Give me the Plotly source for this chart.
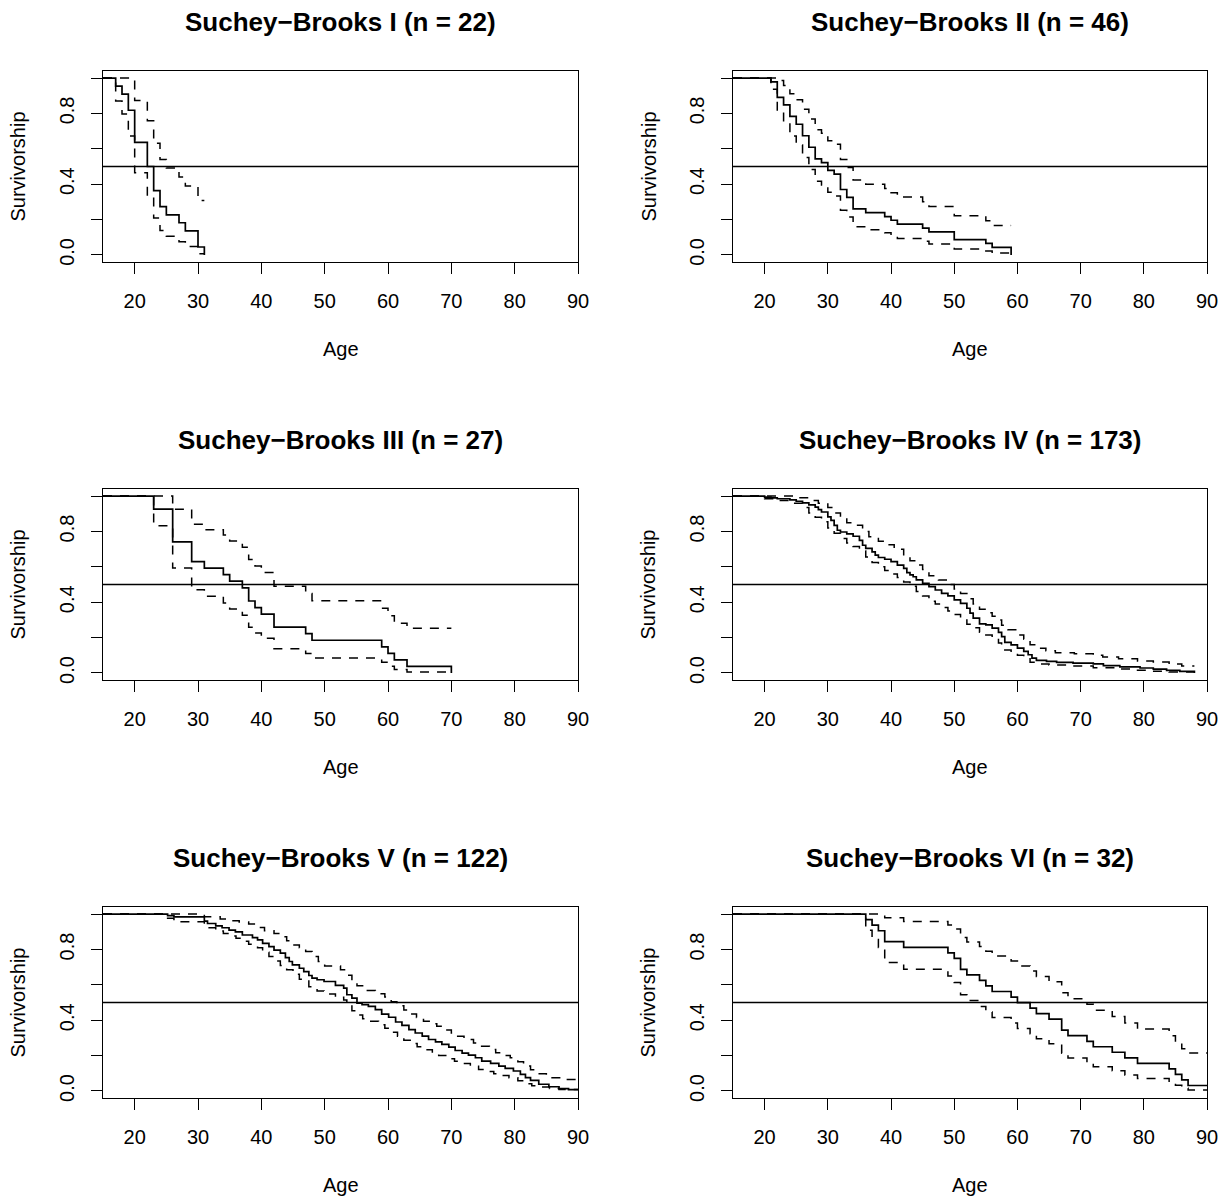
import plotly.graph_objects as go

# ---------------- data ----------------
titles = ["Suchey\u2212Brooks I (n = 22)", "Suchey\u2212Brooks II (n = 46)",
          "Suchey\u2212Brooks III (n = 27)", "Suchey\u2212Brooks IV (n = 173)",
          "Suchey\u2212Brooks V (n = 122)", "Suchey\u2212Brooks VI (n = 32)"]

x_ticks = [20, 30, 40, 50, 60, 70, 80, 90]
y_ticks = [0.0, 0.2, 0.4, 0.6, 0.8, 1.0]
y_tick_text = ["0.0", "", "0.4", "", "0.8", ""]

# Panel I
sb1_age = [15, 17, 18, 19, 20, 22, 23, 24, 25, 27, 28, 30, 31]
sb1_surv = [1.0, .955, .909, .818, .636, .5, .364, .273, .227, .182, .136, .045, 0.0]
sb1_up = [1.0, 1.0, 1.0, .996, .873, .759, .632, .539, .491, .441, .39, .308, .308]
sb1_lo = [1.0, .871, .797, .672, .464, .329, .209, .138, .105, .075, .048, .007, .007]

# Panel II
sb2_age = [15, 21, 22, 23, 24, 25, 26, 27, 28, 29, 30, 31, 32, 33, 34, 36, 39, 40, 41,
           45, 46, 50, 55, 56, 59]
sb2_surv = [1.0, .978, .891, .848, .783, .739, .674, .609, .543, .522, .478, .457, .370,
            .326, .261, .239, .217, .196, .174, .152, .130, .087, .065, .043, 0.0]
sb2_up = [1.0, 1.0, .986, .958, .912, .878, .824, .768, .708, .688, .646, .626, .540,
          .494, .424, .400, .376, .352, .327, .301, .274, .222, .194, .167, .167]
sb2_lo = [1.0, .937, .806, .751, .672, .622, .551, .483, .417, .396, .354, .333, .253,
          .215, .160, .143, .126, .109, .093, .077, .062, .034, .022, .011, .011]

# Panel III
sb3_age = [15, 23, 26, 29, 31, 34, 35, 37, 38, 39, 40, 42, 47, 48, 59, 60, 61, 63, 70]
sb3_surv = [1.0, .926, .741, .630, .593, .556, .519, .481, .407, .370, .333, .259, .222,
            .185, .148, .111, .074, .037, 0.0]
sb3_up = [1.0, 1.0, .926, .841, .810, .780, .746, .711, .642, .605, .568, .490, .450,
          .408, .366, .323, .281, .253, .253]
sb3_lo = [1.0, .833, .593, .471, .434, .396, .361, .326, .258, .226, .196, .137, .110,
          .084, .060, .038, .020, .005, .005]

# Panel IV
sb4_age = [15, 20, 21, 22, 24, 25, 26, 27, 28, 28.5,
           29, 30, 30.5, 31, 31.5, 32, 33, 34, 35, 35.5,
           36, 37, 37.5, 38, 39, 40, 41, 42, 42.5, 43,
           43.5, 44, 45, 46, 47, 48, 49, 50, 51, 52,
           52.5, 53, 54, 55, 56, 57, 57.5, 58, 59, 60,
           61, 61.7, 62.3, 63, 64.6, 66.2, 68.8, 72, 73.6, 76.2,
           79.4, 81.5, 83.6, 85.7, 88]
sb4_surv = [1.0, .994, .99, .985, .979, .971, .962, .95, .938, .923,
            .91, .882, .863, .835, .807, .797, .786, .773, .75, .722,
            .704, .685, .666, .653, .643, .629, .61, .591, .567, .555,
            .544, .526, .507, .488, .469, .45, .436, .413, .394, .366,
            .338, .31, .278, .272, .253, .229, .206, .173, .159, .141,
            .122, .103, .084, .071, .066, .06, .056, .051, .041, .034,
            .028, .022, .015, .009, 0.0]
sb4_up_age = [15, 25, 27, 28.5, 30, 31, 32, 33, 34, 35.5,
              36.5, 38, 39, 40.5, 42, 43, 44, 45, 46, 47.5,
              49, 50, 51, 52, 53, 54, 55, 56, 57, 57.5,
              58.5, 60, 61, 62, 63, 64.5, 66, 69, 72, 73.5,
              76, 79, 81.5, 84, 86, 88]
sb4_up = [1.0, .99, .975, .96, .935, .905, .875, .85, .835, .80,
          .77, .745, .725, .70, .66, .635, .61, .585, .55, .525,
          .50, .475, .45, .42, .39, .36, .34, .32, .30, .27,
          .245, .215, .19, .16, .14, .125, .115, .108, .10, .09,
          .08, .068, .062, .05, .04, .04]
sb4_lo_age = [15, 20, 22, 24, 26, 27, 28, 29, 30, 31,
              32, 33, 34, 35, 36, 37, 38, 39, 40, 41,
              42, 43, 44, 45, 46, 47, 48, 49, 50, 51,
              52, 53, 54, 55, 56, 57, 57.5, 58, 59, 60,
              61, 62, 63, 65, 68, 72, 76, 79, 81, 84, 88]
sb4_lo = [1.0, .985, .975, .96, .935, .905, .88, .855, .82, .79,
          .76, .735, .715, .69, .655, .625, .60, .58, .56, .54,
          .515, .49, .46, .435, .405, .39, .37, .35, .33, .305,
          .275, .255, .23, .215, .195, .17, .145, .13, .115, .10,
          .08, .06, .05, .045, .04, .03, .022, .015, .01, .005, .005]

# Panel V
sb5_age = [15, 25.2, 26.2, 31, 31.5, 32.8, 33.8, 34.9, 35.9, 37,
           38.6, 39.4, 40.2, 41.2, 42, 43, 43.8, 44.4, 44.9, 46,
           46.7, 47.5, 48, 48.8, 49.9, 51.7, 53, 53.5, 54.3, 55.1,
           55.9, 56.9, 58, 59, 60.1, 61.2, 62.2, 63.3, 64.3, 65.4,
           66.4, 67.5, 68.5, 69.6, 70.6, 71.7, 72.7, 73.8, 74.8, 76.2,
           77.5, 78.5, 79.8, 80.9, 81.7, 82.5, 83.8, 85.4, 87, 88.5, 90]
sb5_surv = [1.0, .992, .984, .96, .947, .934, .923, .91, .90, .882,
            .867, .854, .835, .816, .797, .779, .754, .732, .713, .694,
            .675, .653, .638, .629, .619, .597, .582, .544, .525, .497,
            .488, .478, .46, .435, .417, .39, .371, .347, .328, .31,
            .291, .278, .263, .248, .229, .214, .203, .188, .169, .156,
            .141, .128, .113, .094, .075, .06, .038, .024, .013, .008, .008]
sb5_up_age = [15, 31, 33.5, 35, 36.5, 38, 39.5, 40.5, 42, 43,
              44, 45, 46, 47, 48, 49, 50, 52.5, 53.5, 54.3,
              55.1, 56.5, 58, 59.5, 60.5, 61.4, 62.5, 63.3, 64.5, 65.6,
              66.5, 67.7, 69, 70, 71, 72, 73.5, 74.5, 76, 77,
              78, 79.3, 80.5, 81.4, 82.5, 83.5, 85, 85.9, 88, 90]
sb5_up = [1.0, .985, .972, .962, .955, .944, .925, .906, .89, .872,
          .85, .826, .81, .788, .76, .732, .707, .685, .655, .625,
          .595, .568, .55, .531, .505, .482, .458, .435, .415, .394,
          .38, .366, .345, .328, .31, .291, .272, .253, .235, .216,
          .20, .188, .165, .141, .12, .098, .085, .075, .065, .06]
sb5_lo_age = [15, 25.2, 26.2, 31, 32.8, 34, 35, 36, 37, 38,
              39.4, 40.2, 41.2, 42, 43, 44, 45, 46, 47.5, 48.8,
              49.9, 51.7, 53, 53.5, 54.3, 55.1, 56, 57, 58.5, 59.5,
              60.4, 61.5, 62.5, 63.5, 64.6, 65.7, 67, 68, 69.3, 70.5,
              71.7, 73, 74.3, 75.5, 76.7, 78, 79.1, 80.5, 81.7, 82.7,
              83.8, 85.5, 87, 90]
sb5_lo = [1.0, .976, .957, .923, .905, .891, .877, .863, .846, .829,
          .81, .784, .76, .735, .71, .685, .66, .632, .59, .565,
          .548, .53, .515, .49, .454, .43, .409, .395, .375, .355,
          .332, .31, .287, .268, .25, .233, .216, .20, .182, .168,
          .156, .14, .122, .11, .098, .087, .075, .058, .041, .03,
          .022, .014, .009, .005]

# Panel VI
sb6_age = [15, 36, 37, 38, 39, 42, 49, 50, 51, 52, 54, 55, 56, 59, 60, 62, 63, 65, 67,
           68, 71, 72, 75, 77, 79, 84, 85, 86, 87, 90]
sb6_surv = [1.0, .969, .938, .906, .844, .8125, .781, .75, .6875, .656, .625, .594, .5625,
            .531, .5, .469, .4375, .406, .344, .3125, .281, .25, .219, .1875, .156, .125,
            .094, .0625, .031, .031]
sb6_up = [1.0, 1.0, 1.0, 1.0, .98, .959, .938, .916, .868, .843, .817, .79, .763, .735,
          .707, .678, .648, .618, .555, .522, .49, .456, .421, .385, .35, .313, .275,
          .239, .215, .215]
sb6_lo = [1.0, .909, .857, .811, .727, .688, .650, .614, .544, .511, .478, .446, .415,
          .384, .354, .324, .295, .267, .213, .187, .161, .137, .114, .091, .070, .050,
          .032, .016, .005, .005]

panels = [
    (sb1_age, sb1_surv, sb1_age, sb1_up, sb1_age, sb1_lo),
    (sb2_age, sb2_surv, sb2_age, sb2_up, sb2_age, sb2_lo),
    (sb3_age, sb3_surv, sb3_age, sb3_up, sb3_age, sb3_lo),
    (sb4_age, sb4_surv, sb4_up_age, sb4_up, sb4_lo_age, sb4_lo),
    (sb5_age, sb5_surv, sb5_up_age, sb5_up, sb5_lo_age, sb5_lo),
    (sb6_age, sb6_surv, sb6_age, sb6_up, sb6_age, sb6_lo),
]

# ---------------- layout geometry ----------------
W, H = 1227, 1197
SX, SY = 1 / 0.991, 1 / 0.9966   # compensation for the observed rendering scale
col_px = [(103 * SX, 578 * SX), (733 * SX, 1207 * SX)]
row_px = [(71 * SY, 262 * SY), (489 * SY, 680 * SY), (907 * SY, 1098 * SY)]
title_y = [22 * SY, 440 * SY, 858 * SY]
agelab_y = [349 * SY, 767 * SY, 1185 * SY]
ylab_x = [18 * SX, 648 * SX]

FONT = "Liberation Sans, Arial, Helvetica, sans-serif"
LW = 1.4

fig = go.Figure()
layout = dict(width=W, height=H, margin=dict(l=0, r=0, t=0, b=0),
              paper_bgcolor="white", plot_bgcolor="white", showlegend=False,
              font=dict(family=FONT, color="black"))
annotations = []
shapes = []

for i, (ax, s, ua, u, la, lo) in enumerate(panels):
    r, c = divmod(i, 2)
    k = "" if i == 0 else str(i + 1)
    xa, ya = "x" + k, "y" + k
    x0, x1 = col_px[c]
    y0, y1 = row_px[r]
    common = dict(showline=True, mirror=True, linecolor="black", linewidth=LW,
                  ticks="outside", ticklen=11, tickwidth=LW, tickcolor="black",
                  showgrid=False, zeroline=False,
                  tickfont=dict(family=FONT, size=20, color="black"))
    layout["xaxis" + k] = dict(common, domain=[x0 / W, x1 / W], range=[15, 90],
                               tickmode="array", tickvals=x_ticks,
                               ticktext=[str(t) for t in x_ticks],
                               anchor=ya, ticklabelstandoff=10)
    layout["yaxis" + k] = dict(common, domain=[1 - y1 / H, 1 - y0 / H],
                               range=[-0.04, 1.04], tickmode="array",
                               tickvals=y_ticks, ticktext=y_tick_text,
                               tickangle=-90, anchor=xa, ticklabelstandoff=9)
    fig.add_trace(go.Scatter(x=ax, y=s, mode="lines", xaxis=xa, yaxis=ya,
                             line=dict(color="black", width=1.7, shape="hv"),
                             hoverinfo="skip"))
    for xx, yy in ((ua, u), (la, lo)):
        fig.add_trace(go.Scatter(x=xx, y=yy, mode="lines", xaxis=xa, yaxis=ya,
                                 line=dict(color="black", width=1.5, shape="hv",
                                           dash="9px,8px"),
                                 hoverinfo="skip"))
    shapes.append(dict(type="line", xref=xa + " domain", yref=ya, x0=0, x1=1,
                       y0=0.5, y1=0.5, line=dict(color="black", width=LW)))
    cx = (x0 + x1) / 2 / W
    annotations.append(dict(text="<b>" + titles[i] + "</b>", x=cx, y=1 - title_y[r] / H,
                            xref="paper", yref="paper", showarrow=False,
                            xanchor="center", yanchor="middle",
                            font=dict(family=FONT, size=26, color="black")))
    annotations.append(dict(text="Age", x=cx, y=1 - agelab_y[r] / H,
                            xref="paper", yref="paper", showarrow=False,
                            xanchor="center", yanchor="middle",
                            font=dict(family=FONT, size=20, color="black")))
    annotations.append(dict(text="Survivorship", x=ylab_x[c] / W,
                            y=1 - (y0 + y1) / 2 / H, xref="paper", yref="paper",
                            showarrow=False, textangle=-90,
                            xanchor="center", yanchor="middle",
                            font=dict(family=FONT, size=20, color="black")))

layout["annotations"] = annotations
layout["shapes"] = shapes
fig.update_layout(**layout)
fig.write_html(
    "out.html",
    config={"displayModeBar": False, "responsive": False},
    post_script=("document.documentElement.style.margin='0px';"
                 "document.body.style.margin='0px';"
                 "document.body.style.overflow='hidden';"
                 "document.documentElement.style.overflow='hidden';"
                 "var gd=document.getElementById('{plot_id}');"
                 "gd.style.position='fixed';gd.style.left='0px';gd.style.top='0px';"),
)
